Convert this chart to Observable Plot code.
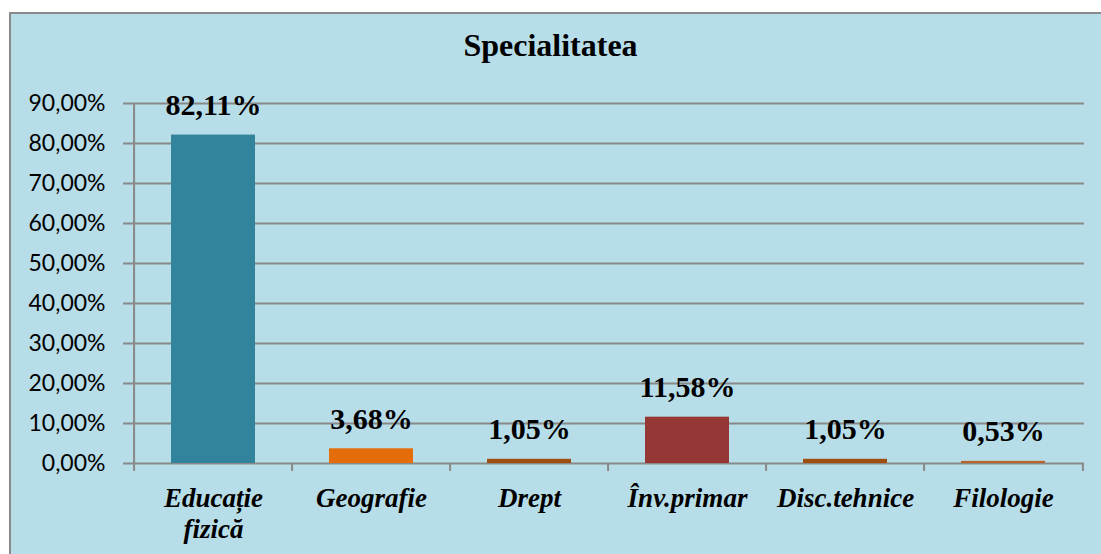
<!DOCTYPE html>
<html>
<head>
<meta charset="utf-8">
<script src="https://cdn.jsdelivr.net/npm/d3@7"></script>
<script src="https://cdn.jsdelivr.net/npm/@observablehq/plot@0.6"></script>
<style>
  html, body { margin: 0; padding: 0; background: #ffffff; overflow: hidden; }
  body { width: 1101px; height: 554px; position: relative; }
  #box { position: absolute; left: 9px; top: 12px; right: -40px; bottom: -40px; background: #b7dde8; border-top: 2px solid #8a8a8a; border-left: 2px solid #8a8a8a; }
  #title { position: absolute; left: 0; width: 1101px; top: 25px; text-align: center; font-family: "Liberation Serif", "Times New Roman", serif; font-weight: bold; font-size: 32px; line-height: 40px; color: #000; }
  #chart { position: absolute; left: 0; top: 70px; }
</style>
</head>
<body>
<div id="box"></div>
<div id="title">Specialitatea</div>
<div id="chart"></div>
<script>
const categories = ["Educație fizică", "Geografie", "Drept", "Înv.primar", "Disc.tehnice", "Filologie"];
const axisLabels = ["Educație\nfizică", "Geografie", "Drept", "Înv.primar", "Disc.tehnice", "Filologie"];
const values = [82.11, 3.68, 1.05, 11.58, 1.05, 0.53];
const valueLabels = ["82,11%", "3,68%", "1,05%", "11,58%", "1,05%", "0,53%"];
const colors = ["#31849b", "#e46c0a", "#9c4f10", "#953735", "#9c4f10", "#b8652a"];
const yTicks = [0, 10, 20, 30, 40, 50, 60, 70, 80, 90];

const data = categories.map((c, i) => ({cat: c, val: values[i], label: valueLabels[i]}));

const W = 1101, H = 484, mL = 131, mR = 17, mT = 33, mB = 91;
const step = (W - mL - mR) / categories.length;
const gridColor = "#898989";

const chart = Plot.plot({
  width: W,
  height: H,
  marginLeft: mL,
  marginRight: mR,
  marginTop: mT,
  marginBottom: mB,
  style: {background: "transparent", overflow: "visible"},
  x: {domain: categories, padding: 0, label: null},
  y: {domain: [0, 90], label: null},
  color: {domain: categories, range: colors},
  marks: [
    Plot.ruleY(yTicks, {stroke: gridColor, strokeWidth: 2, insetLeft: -8}),
    Plot.ruleX([categories[0]], {y1: 0, y2: 90, dx: -step / 2, stroke: gridColor, strokeWidth: 2}),
    Plot.ruleX(categories, {y1: 0, y2: -2, dx: -step / 2, stroke: gridColor, strokeWidth: 2}),
    Plot.ruleX([categories[categories.length - 1]], {y1: 0, y2: -2, dx: step / 2, stroke: gridColor, strokeWidth: 2}),
    Plot.barY(data, {x: "cat", y: "val", fill: "cat", insetLeft: 37, insetRight: 37}),
    Plot.text(data, {x: "cat", y: "val", text: "label", dy: -20, lineAnchor: "bottom",
      fontFamily: "Liberation Serif", fontWeight: "bold", fontSize: 30, fill: "#000"}),
    Plot.axisY({ticks: yTicks, tickSize: 0, tickPadding: 26,
      tickFormat: d => d.toFixed(2).replace(".", ",") + "%",
      fontFamily: "Lato", fontSize: 23, fill: "#000", label: null}),
    Plot.axisX({tickSize: 0, tickPadding: 21, lineHeight: 1.15,
      tickFormat: d => axisLabels[categories.indexOf(d)],
      fontFamily: "Liberation Serif", fontWeight: "bold", fontStyle: "italic", fontSize: 27, fill: "#000", label: null})
  ]
});
document.getElementById("chart").appendChild(chart);
</script>
</body>
</html>
